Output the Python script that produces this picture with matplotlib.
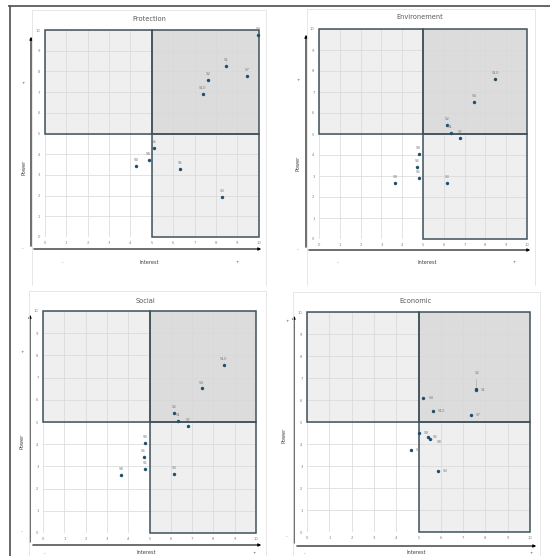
import matplotlib.pyplot as plt
from matplotlib.patches import Rectangle, FancyArrowPatch
from matplotlib.lines import Line2D

W, H = 550, 556

# ---- données : (intérêt, pouvoir) par partie prenante
labels = ['S1', 'S2', 'S3', 'S4', 'S5', 'S6', 'S7', 'S8', 'S9', 'S10']

prot_interest = [8.49, 7.63, 8.30, 9.98, 6.31, 5.12, 9.45, 4.86, 4.27, 7.38]
prot_power = [8.26, 7.59, 1.95, 9.77, 3.28, 4.28, 7.78, 3.71, 3.42, 6.93]

env_interest = [6.33, 6.15, 6.15, 7.44, 4.79, 4.71, 6.79, 3.67, 4.79, 8.48]
env_power = [5.03, 5.43, 2.68, 6.54, 2.91, 3.42, 4.82, 2.66, 4.04, 7.60]

soc_interest = [6.33, 6.16, 6.17, 7.45, 4.78, 4.72, 6.80, 3.66, 4.80, 8.48]
soc_power = [5.04, 5.40, 2.66, 6.51, 2.89, 3.41, 4.81, 2.63, 4.06, 7.59]

eco_interest = [7.58, 7.58, 5.86, 5.22, 5.43, 4.65, 7.34, 5.53, 5.01, 5.65]
eco_power = [6.47, 6.49, 2.76, 6.08, 4.30, 3.74, 5.33, 4.24, 4.48, 5.50]

titles = ['Protection', 'Environement', 'Social', 'Economic']
ticks = list(range(0, 11))

# position des panneaux en pixels (mise en page uniquement)
panels = [
    dict(ax=(44.7, 258.7, 30, 237), frame=(32, 10, 266, 285), corner=(31, 249), ytip=34, xtip=264,
         title=(149, 19), power=(24, 167), interest=(149, 262),
         yplus=(23, 83), yminus=(23, 248), xminus=(63, 262), xplus=(237, 262)),
    dict(ax=(319, 527, 29, 239), frame=(307, 9, 535, 285), corner=(306, 250), ytip=32, xtip=533,
         title=(420, 17), power=(298, 163), interest=(427, 262),
         yplus=(298, 80), yminus=(298, 249), xminus=(338, 262), xplus=(514, 262)),
    dict(ax=(43, 256, 311, 533), frame=(29, 291, 266, 560), corner=(30, 545), ytip=312, xtip=264,
         title=(145, 301), power=(22, 441), interest=(146, 553),
         yplus=(22, 352), yminus=(22, 531), xminus=(45, 553), xplus=(254, 553)),
    dict(ax=(307, 530, 312, 532), frame=(293, 292, 540, 560), corner=(294, 546), ytip=313, xtip=539,
         title=(416, 301), power=(284, 435), interest=(416, 553),
         yplus=(287, 321), yminus=(287, 536), xminus=(305, 553), xplus=(531, 553)),
]
series = [(prot_interest, prot_power), (env_interest, env_power),
          (soc_interest, soc_power), (eco_interest, eco_power)]

plt.rcParams['font.family'] = ['DejaVu Sans']


def px(x, y):
    return x / W, 1 - y / H


fig = plt.figure(figsize=(W / 100, H / 100), dpi=100)
fig.patch.set_facecolor('white')

# cadre extérieur
fig.add_artist(Line2D([9 / W, 1], [1 - 6 / H, 1 - 6 / H], color='#5a5a5a', lw=1.3, transform=fig.transFigure))
fig.add_artist(Line2D([9.5 / W, 9.5 / W], [0, 1 - 6 / H], color='#5a5a5a', lw=1.3, transform=fig.transFigure))

edge = '#3f525b'
dot = '#1f4f6b'

for i, p in enumerate(panels):
    x0, x10, y10, y0 = p['ax']
    l, t, r, b = p['frame']
    # zone du graphique (bord bas coupé dans la capture)
    fx = [l / W, l / W, r / W, r / W]
    fy = [1 - b / H, 1 - t / H, 1 - t / H, 1 - b / H]
    fig.add_artist(Line2D(fx, fy, color='#e3e3e3', lw=0.6, transform=fig.transFigure))

    ax = fig.add_axes([x0 / W, 1 - y0 / H, (x10 - x0) / W, (y0 - y10) / H])
    ax.set_xlim(0, 10)
    ax.set_ylim(0, 10)
    ax.set_xticks(ticks)
    ax.set_yticks(ticks)
    ax.set_axisbelow(True)
    ax.grid(True, color='#d8d8d8', lw=0.5)
    for s in ax.spines.values():
        s.set_visible(False)
    ax.tick_params(length=0, labelsize=2.7, colors='#808080', pad=3.2)

    # quadrants
    ax.add_patch(Rectangle((0, 5), 5, 5, fc='#efefef', ec='none', zorder=0.2))
    ax.add_patch(Rectangle((5, 5), 5, 5, fc='#dcdcdc', ec='none', zorder=0.2))
    ax.add_patch(Rectangle((5, 0), 5, 5, fc='#efefef', ec='none', zorder=0.2))
    ax.add_patch(Rectangle((0, 5), 5, 5, fill=False, ec=edge, lw=1.1, zorder=2, clip_on=False))
    ax.add_patch(Rectangle((5, 5), 5, 5, fill=False, ec=edge, lw=1.1, zorder=2, clip_on=False))
    ax.add_patch(Rectangle((5, 0), 5, 5, fill=False, ec=edge, lw=1.1, zorder=2, clip_on=False))

    xs, ys = series[i]
    ax.scatter(xs, ys, s=6, color=dot, zorder=3, clip_on=False, linewidths=0)
    for lab, xv, yv in zip(labels, xs, ys):
        if i < 3:
            ax.annotate(lab, (xv, yv), xytext=(0, 4.3), textcoords='offset points',
                        ha='center', va='center', fontsize=2.8, color='#808080', annotation_clip=False)
        elif lab == 'S2':
            ax.annotate(lab, (xv, yv), xytext=(1, 12), textcoords='offset points',
                        ha='center', va='center', fontsize=2.8, color='#808080',
                        arrowprops=dict(arrowstyle='-', color='#a0a0a0', lw=0.4, shrinkA=1.5, shrinkB=2))
        elif lab == 'S8':
            ax.annotate(lab, (xv, yv), xytext=(4.5, -2.2), textcoords='offset points',
                        ha='left', va='center', fontsize=2.8, color='#808080',
                        arrowprops=dict(arrowstyle='-', color='#a0a0a0', lw=0.3, shrinkA=1, shrinkB=1))
        else:
            ax.annotate(lab, (xv, yv), xytext=(3.5, 0), textcoords='offset points',
                        ha='left', va='center', fontsize=2.8, color='#808080')

    # flèches des axes
    cx, cy = p['corner']
    for tip in [(cx, p['ytip']), (p['xtip'], cy)]:
        fig.add_artist(FancyArrowPatch(px(cx, cy), px(*tip), transform=fig.transFigure,
                                       arrowstyle='-|>', mutation_scale=4, lw=0.8, color='black'))

    fig.text(*px(*p['title']), titles[i], ha='center', va='center', fontsize=4.8, color='#595959')
    fig.text(*px(*p['power']), 'Power', ha='center', va='center', rotation=90, fontsize=3.6, color='#404040')
    fig.text(*px(*p['interest']), 'Interest', ha='center', va='center', fontsize=3.6, color='#404040')
    fig.text(*px(*p['yplus']), '+', ha='center', va='center', fontsize=3, color='#404040')
    fig.text(*px(*p['xplus']), '+', ha='center', va='center', fontsize=3, color='#404040')
    fig.text(*px(*p['yminus']), '-', ha='center', va='center', fontsize=3, color='#404040')
    fig.text(*px(*p['xminus']), '-', ha='center', va='center', fontsize=3, color='#404040')

fig.savefig('out.png', dpi=100)
